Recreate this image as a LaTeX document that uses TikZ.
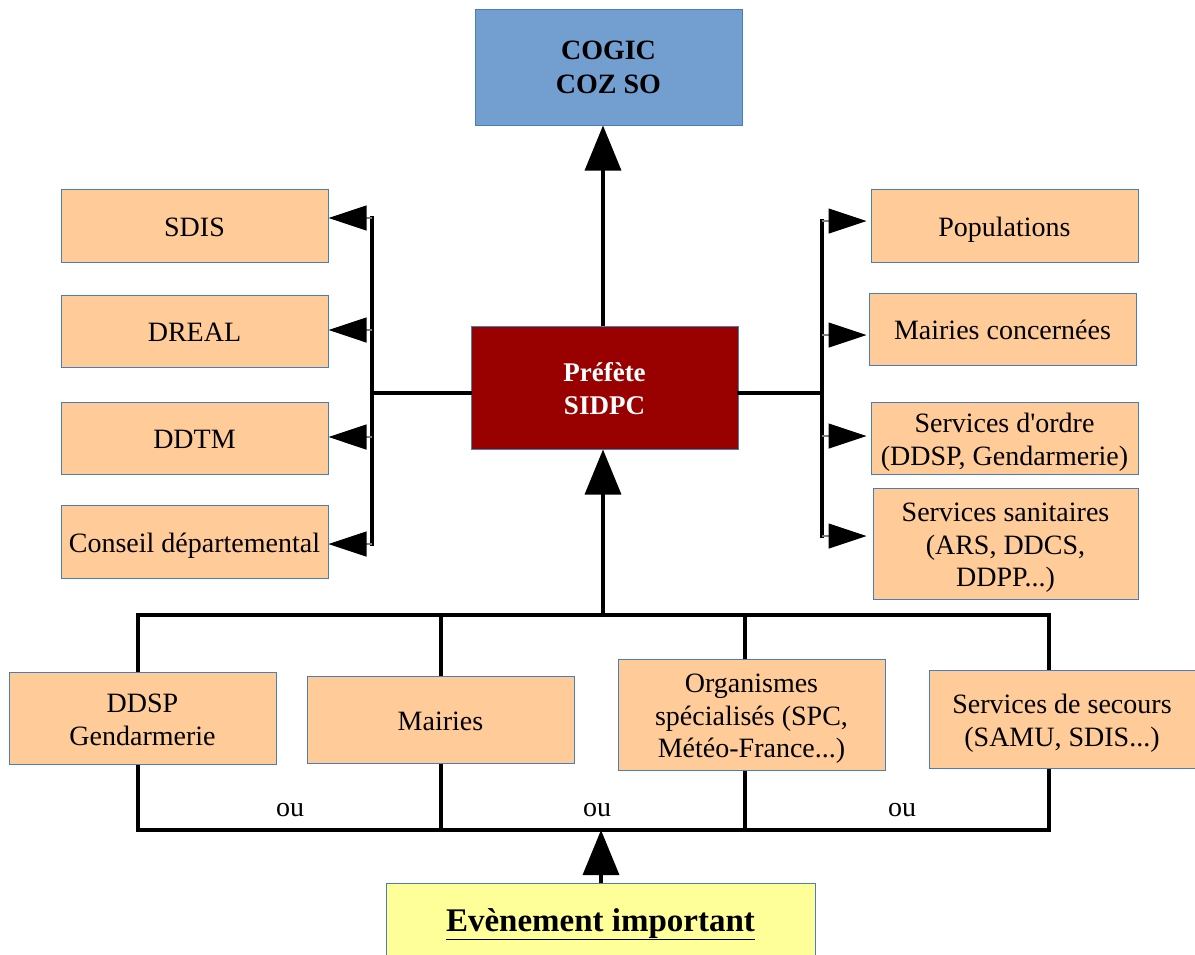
\documentclass[tikz,border=0pt]{standalone}
\usepackage{fontspec}
\setmainfont{Liberation Serif}[Ligatures=TeXOff]
\usetikzlibrary{arrows.meta}
\pgfdeclarelayer{bg}
\pgfsetlayers{bg,main}
\definecolor{boxfill}{HTML}{FFCC99}
\definecolor{boxline}{HTML}{4A7EBB}
\definecolor{cogicfill}{HTML}{729FCF}
\definecolor{preffill}{HTML}{990000}
\definecolor{evfill}{HTML}{FFFF99}
\begin{document}
\begin{tikzpicture}[x=1pt,y=-1pt,
  box/.style={draw=boxline, line width=1pt, fill=boxfill, inner sep=0pt, align=center,
    font=\fontsize{28}{32.5}\selectfont},
  one/.style={text height=26pt, text depth=4.4pt},
  two/.style={text height=58.5pt, text depth=4.4pt},
  three/.style={text height=91pt, text depth=4.4pt},
  conn/.style={line width=3.5pt, black, line cap=rect},
  bigup/.style={line width=3.5pt, black, -{Triangle[length=45pt,width=36pt]}},
  side/.style={line width=1.2pt, gray, -{Triangle[length=38pt,width=25pt,black]}},
  oulabel/.style={inner sep=0pt, font=\fontsize{28}{33}\selectfont}
]
\useasboundingbox (0,0) rectangle (1195,954);

% top and central boxes
\node[box, fill=cogicfill, minimum width=267, minimum height=116, font=\fontsize{28}{34}\selectfont\bfseries]
  (cogic) at (608.5,67) {COGIC\\COZ SO};
\node[box, fill=preffill, text=white, minimum width=267, minimum height=123, text height=59.2pt, text depth=4.4pt,
  font=\fontsize{27}{33}\selectfont\bfseries]
  (pref) at (604.5,387.5) {Préfète\\SIDPC};

% left boxes
\node[box, one, minimum width=267, minimum height=73] (sdis) at (194.5,225.5) {SDIS};
\node[box, one, minimum width=267, minimum height=72] (dreal) at (194.5,331) {DREAL};
\node[box, one, minimum width=267, minimum height=72] (ddtm) at (194.5,438) {DDTM};
\node[box, one, minimum width=267, minimum height=73] (cd) at (194.5,541.5) {Conseil départemental};

% right boxes
\node[box, one, minimum width=267, minimum height=73] (pop) at (1004.5,225.5) {Populations};
\node[box, one, minimum width=267, minimum height=72] (mc) at (1002.5,329) {Mairies concernées};
\node[box, two, minimum width=267, minimum height=72] (so) at (1004.5,438) {Services d'ordre\\(DDSP, Gendarmerie)};
\node[box, three, minimum width=265, minimum height=111] (ss) at (1005.5,543.5) {Services sanitaires\\(ARS, DDCS,\\DDPP...)};

% bottom boxes
\node[box, two, minimum width=267, minimum height=92] (ddsp) at (142.5,718) {DDSP\\Gendarmerie};
\node[box, one, minimum width=267, minimum height=87] (mai) at (440.5,719.5) {Mairies};
\node[box, three, minimum width=267, minimum height=111] (org) at (751.5,714.5) {Organismes\\spécialisés (SPC,\\Météo-France...)};
\node[box, two, minimum width=266, minimum height=98] (sec) at (1062,719) {Services de secours\\(SAMU, SDIS...)};

% event box
\node[box, fill=evfill, minimum width=429, minimum height=77, text height=28pt, text depth=9pt,
  font=\fontsize{33}{38}\selectfont\bfseries]
  (ev) at (600.5,921.5) {\underline{Evènement important}};

% ou labels
\node[oulabel] (ou1) at (290,810) {ou};
\node[oulabel] (ou2) at (597,810) {ou};
\node[oulabel] (ou3) at (902,810) {ou};

% coordinates of the connector network
\coordinate (lt) at (372,218);
\coordinate (lb) at (372,544);
\coordinate (l2) at (372,330);
\coordinate (l3) at (372,437);
\coordinate (rt) at (822,221);
\coordinate (rb) at (822,536);
\coordinate (r2) at (822,335);
\coordinate (r3) at (822,436);
\coordinate (hy) at (0,393);
\coordinate (t1) at (138,615);
\coordinate (t2) at (441,615);
\coordinate (t3) at (745,615);
\coordinate (t4) at (1049,615);
\coordinate (b1) at (138,830);
\coordinate (b2) at (441,830);
\coordinate (b3) at (745,830);
\coordinate (b4) at (1049,830);

\begin{pgfonlayer}{bg}
  \draw[conn] (t1) -- (t4);
  \draw[conn] (b1) -- (b4);
  \draw[conn] (t1) -- (b1);
  \draw[conn] (t2) -- (b2);
  \draw[conn] (t3) -- (b3);
  \draw[conn] (t4) -- (b4);
\end{pgfonlayer}

% left bracket
\draw[conn] (lt) -- (lb);
\draw[conn] (pref.west |- hy) -- (lt |- hy);
\draw[side] (lt) -- (lt -| sdis.east);
\draw[side] (l2) -- (l2 -| dreal.east);
\draw[side] (l3) -- (l3 -| ddtm.east);
\draw[side] (lb) -- (lb -| cd.east);

% right bracket
\draw[conn] (rt) -- (rb);
\draw[conn] (pref.east |- hy) -- (rt |- hy);
\draw[side, shorten >=4pt] (rt) -- (rt -| pop.west);
\draw[side, shorten >=2pt] (r2) -- (r2 -| mc.west);
\draw[side, shorten >=4pt] (r3) -- (r3 -| so.west);
\draw[side, shorten >=6pt] (rb) -- (rb -| ss.west);

% vertical arrows
\draw[bigup] (pref.north -| 603,0) -- (cogic.south -| 603,0);
\draw[bigup] (t1 -| 603,0) -- (pref.south -| 603,0);
\draw[bigup] (ev.north -| 601,0) -- (b1 -| 601,0);
\end{tikzpicture}
\end{document}
